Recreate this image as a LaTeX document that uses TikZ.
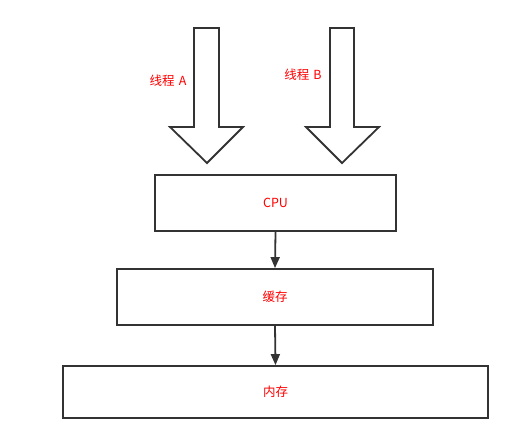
\documentclass[tikz,border=0pt]{standalone}
\usepackage{fontspec}
\setmainfont{Noto Sans CJK SC}
\usetikzlibrary{arrows.meta}
\definecolor{linegray}{HTML}{333333}
\definecolor{textred}{HTML}{FF0000}
\tikzset{
  box/.style={draw=linegray, line width=1.8pt, fill=white, inner sep=0pt},
  lbl/.style={text=textred, font=\fontsize{12.5}{15}\selectfont},
  conn/.style={draw=linegray, line width=1.8pt, -{Triangle[length=11pt,width=9pt]}},
  blockarrow/.style={draw=linegray, line width=1.8pt, fill=white, line join=miter}
}
\begin{document}
\begin{tikzpicture}[x=1pt,y=-1pt]
\useasboundingbox (0,0) rectangle (526,438);
% block arrows
\draw[blockarrow] (194,28) -- (219,28) -- (219,127) -- (243,127) -- (207,163) -- (170,127) -- (194,127) -- cycle;
\draw[blockarrow] (330,28) -- (354,28) -- (354,127) -- (379,127) -- (342,163) -- (306,127) -- (330,127) -- cycle;
\node[lbl] (la) at (168,81) {线程\,\,A};
\node[lbl] (lb) at (303,75) {线程\,\,B};
% boxes
\node[box, minimum width=241pt, minimum height=56pt, lbl] (cpu) at (275.5,203) {CPU};
\node[box, minimum width=316pt, minimum height=56pt, lbl] (cache) at (275,297) {缓存};
\node[box, minimum width=425pt, minimum height=52pt, lbl] (mem) at (275.5,392) {内存};
\draw[conn] (cpu.south) -- (cache.north);
\draw[conn] (cache.south) -- (mem.north);
\end{tikzpicture}
\end{document}
